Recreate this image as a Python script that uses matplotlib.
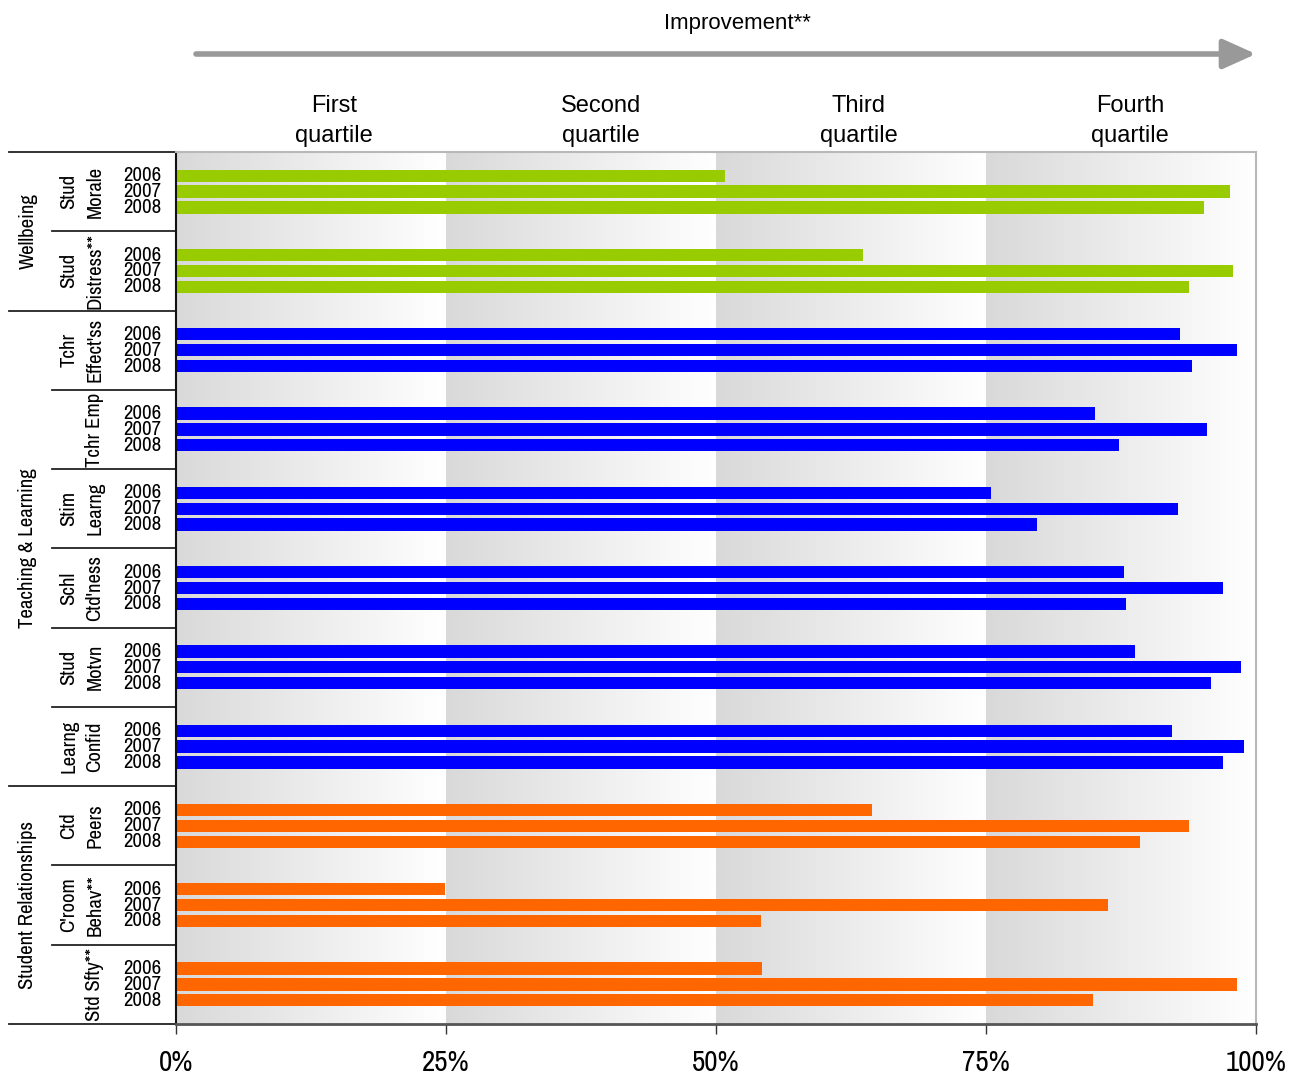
import matplotlib.pyplot as plt
import matplotlib.transforms as mtransforms
from matplotlib import font_manager
from matplotlib.colors import LinearSegmentedColormap
from matplotlib.lines import Line2D
import numpy as np

# data
subgroups = ['Stud\nMorale', 'Stud\nDistress**', 'Tchr\nEffect\'ss', 'Tchr Emp',
             'Stim\nLearng', 'Schl\nCtd\'ness', 'Stud\nMotvn', 'Learng\nConfid',
             'Ctd\nPeers', 'C\'room\nBehav**', 'Std Sfty**']
years = ['2006', '2007', '2008']
v2006 = [50.8, 63.6, 93.0, 85.1, 75.5, 87.8, 88.8, 92.2, 64.4, 24.9, 54.3]
v2007 = [97.6, 97.9, 98.2, 95.5, 92.8, 96.9, 98.6, 98.9, 93.8, 86.3, 98.2]
v2008 = [95.2, 93.8, 94.1, 87.3, 79.7, 88.0, 95.8, 96.9, 89.3, 54.2, 84.9]
groups = ['Wellbeing', 'Teaching & Learning', 'Student Relationships']
group_sizes = [2, 6, 3]
group_colors = ['#99cc00', '#0000ff', '#ff6600']
quartile_labels = ['First\nquartile', 'Second\nquartile', 'Third\nquartile', 'Fourth\nquartile']
xtick_vals = [0, 25, 50, 75, 100]


def pick_narrow():
    # look for an installed condensed sans face, else fall back to Liberation Sans
    for f in font_manager.fontManager.ttflist:
        if 'Narrow' in f.name and f.weight in (400, 'normal', 'regular') and f.style == 'normal':
            return font_manager.FontProperties(fname=f.fname), True
    for f in font_manager.fontManager.ttflist:
        if 'condensed' in str(f.stretch) and 'Sans' in f.name and f.style == 'normal' \
                and f.weight in (400, 'normal', 'regular') and 'Mono' not in f.name:
            return font_manager.FontProperties(fname=f.fname), True
    return font_manager.FontProperties(family='Liberation Sans'), False


narrow_fp, is_narrow = pick_narrow()
small = 15 if is_narrow else 12.5

W, H = 1301, 1075
fig = plt.figure(figsize=(W / 100, H / 100), dpi=100)
ax = fig.add_axes([176 / W, 1 - 1024 / H, 1080 / W, 872 / H])
n = len(subgroups)
ax.set_xlim(0, 100)
ax.set_ylim(n, 0)

# gradient bands per quartile
grad = np.linspace(0, 1, 256).reshape(1, -1)
cmap = LinearSegmentedColormap.from_list('band', ['#d9d9d9', '#ffffff'])
for q in range(4):
    ax.imshow(grad, extent=(q * 25, q * 25 + 25, n, 0), aspect='auto',
              cmap=cmap, zorder=0, interpolation='bilinear')

colors = []
for g, s in enumerate(group_sizes):
    colors += [group_colors[g]] * s

idx = np.arange(n)
bh = 0.155
for k, vals in enumerate([v2006, v2007, v2008]):
    ax.barh(idx + 0.3 + 0.2 * k, vals, height=bh, color=colors, zorder=2)

ax.set_xticks(xtick_vals)
ax.set_xticklabels([f'{v}%' for v in xtick_vals])
for t in ax.get_xticklabels():
    t.set_fontproperties(narrow_fp)
    t.set_fontsize(21 if is_narrow else 18)
ax.tick_params(axis='x', length=7, width=1, pad=11, color='#333333')
ax.set_yticks([])
for side in ['top', 'right']:
    ax.spines[side].set_color('#b8b8b8')
    ax.spines[side].set_linewidth(1.5)
ax.spines['bottom'].set_color('#555555')
ax.spines['bottom'].set_linewidth(2)
ax.spines['left'].set_color('#111111')
ax.spines['left'].set_linewidth(1.5)

# left-hand labels: x in figure pixels, y in data units
tr = mtransforms.blended_transform_factory(
    mtransforms.Affine2D().scale(1 / W, 1) + fig.transFigure, ax.transData)

bounds = np.cumsum([0] + group_sizes)
for b in bounds:
    ax.add_line(Line2D([9, 176], [b, b], transform=tr, color='#222222', lw=1.3, clip_on=False))
for i in range(1, n):
    if i not in bounds:
        ax.add_line(Line2D([52, 176], [i, i], transform=tr, color='#222222', lw=1.3, clip_on=False))

for g, name in enumerate(groups):
    yc = (bounds[g] + bounds[g + 1]) / 2
    ax.text(28, yc, name, transform=tr, rotation=90, ha='center', va='center',
            fontproperties=narrow_fp, fontsize=small)

for i, lab in enumerate(subgroups):
    lines = lab.split('\n')
    xs = [95] if len(lines) == 1 else [69, 95]
    for x, t in zip(xs, lines):
        ax.text(x, i + 0.5, t, transform=tr, rotation=90, ha='center', va='center',
                fontproperties=narrow_fp, fontsize=small)
    for k, yr in enumerate(years):
        ax.text(142, i + 0.3 + 0.2 * k, yr, transform=tr, ha='center', va='center',
                fontproperties=narrow_fp, fontsize=small)

# header
fig.text(737 / W, 1 - 23 / H, 'Improvement**', ha='center', va='center',
         family=['Liberation Sans', 'DejaVu Sans'], fontsize=16)
ax.annotate('', xy=(1256 / W, 1 - 54 / H), xytext=(196 / W, 1 - 54 / H),
            xycoords='figure fraction', textcoords='figure fraction',
            arrowprops=dict(arrowstyle='-|>,head_length=1.0,head_width=0.45',
                            color='#999999', lw=4, mutation_scale=20,
                            shrinkA=0, shrinkB=0))
for x, lab in zip([334, 601, 859, 1130], quartile_labels):
    fig.text(x / W, 1 - 121 / H, lab, ha='center', va='center',
             family=['Liberation Sans', 'DejaVu Sans'], fontsize=17, linespacing=1.45)

fig.savefig('out.png', dpi=100)
